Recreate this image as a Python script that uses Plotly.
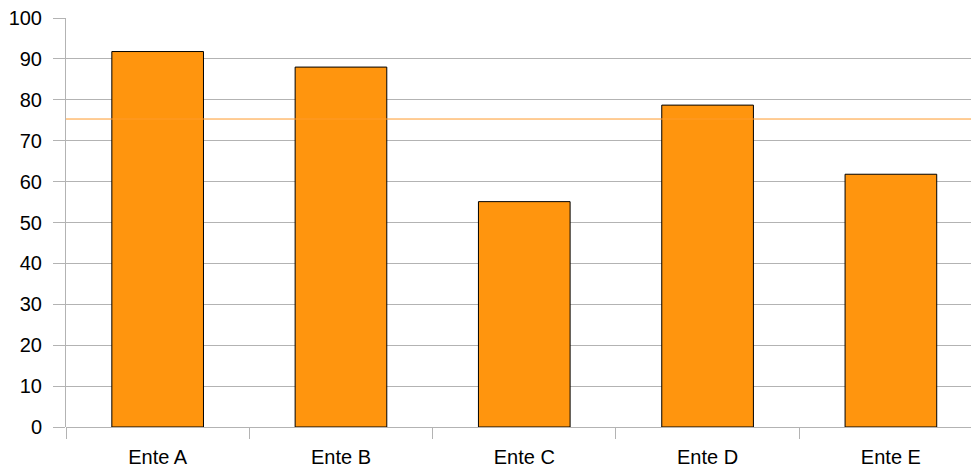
import plotly.graph_objects as go

# Scores per entity, with the overall reference level drawn as a line
categories = ["Ente A", "Ente B", "Ente C", "Ente D", "Ente E"]
values = [91.8, 88.0, 55.1, 78.7, 61.8]
reference_level = 75.3
y_ticks = list(range(0, 101, 10))

BAR_COLOR = "#ff950e"
LINE_COLOR = "#ff9a2c"
GRID_COLOR = "#b3b3b3"
FONT = "Liberation Sans, Arial, sans-serif"

fig = go.Figure()

fig.add_trace(go.Bar(
    x=categories,
    y=values,
    width=0.5,
    marker=dict(color=BAR_COLOR, line=dict(color="#000000", width=1)),
    showlegend=False,
    hoverinfo="x+y",
))

# Horizontal reference line across the full plot width
fig.add_shape(
    type="line", xref="paper", x0=0, x1=1,
    yref="y", y0=reference_level, y1=reference_level,
    line=dict(color=LINE_COLOR, width=1),
    layer="above",
)

fig.update_layout(
    width=971,
    height=470,
    margin=dict(l=66, r=0, t=18, b=43),
    paper_bgcolor="white",
    plot_bgcolor="white",
    font=dict(family=FONT, size=20, color="#000000"),
    bargap=0.5,
    xaxis=dict(
        range=[-0.5, 4.437],
        automargin=False,
        showgrid=False,
        showline=False,
        zeroline=False,
        ticks="outside",
        tickson="boundaries",
        ticklen=11,
        tickcolor=GRID_COLOR,
        tickwidth=1,
        ticklabelstandoff=16,
        tickfont=dict(family=FONT, size=20),
    ),
    yaxis=dict(
        range=[0, 100],
        automargin=False,
        tickvals=y_ticks,
        showgrid=True,
        gridcolor=GRID_COLOR,
        gridwidth=1,
        zeroline=True,
        zerolinecolor=GRID_COLOR,
        zerolinewidth=1,
        showline=True,
        linecolor=GRID_COLOR,
        linewidth=1,
        ticks="outside",
        ticklen=12,
        tickcolor=GRID_COLOR,
        tickwidth=1,
        ticklabelstandoff=7,
        tickfont=dict(family=FONT, size=20),
    ),
)

fig.write_html("out.html")
